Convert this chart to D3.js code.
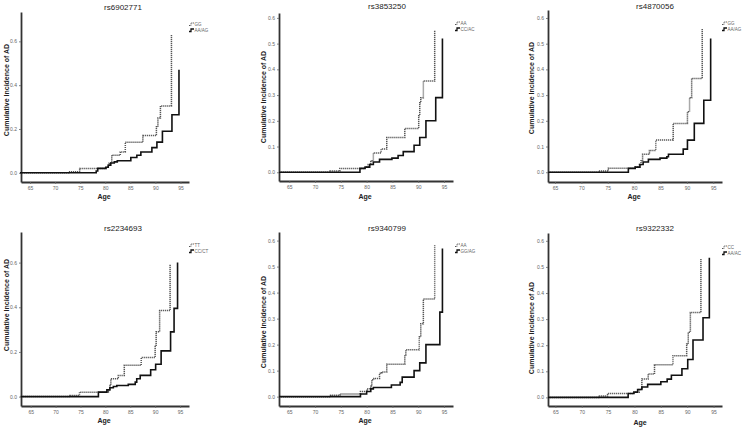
<!DOCTYPE html>
<html><head><meta charset="utf-8">
<script src="https://cdn.jsdelivr.net/npm/d3@7"></script>
<style>
body{margin:0;background:#fff;}
svg{display:block;font-family:Arial,"Liberation Sans",sans-serif;}
</style></head>
<body><svg id="c" width="750" height="429"></svg>
<script>
// ---- data ----
const titles = ["rs6902771","rs3853250","rs4870056","rs2234693","rs9340799","rs9322332"];
const dottedLabels = ["GG","AA","GG","TT","AA","CC"];
const solidLabels = ["AA/AG","CC/AC","AA/AG","CC/CT","GG/AG","AA/AC"];
const xTicks = [65,70,75,80,85,90,95];
const yTicks1 = [0,0.2,0.4,0.6];
const yTicks2 = [0,0.1,0.2,0.3,0.4,0.5,0.6];

// step points [age, cumulative incidence] : value jumps at that age
const rs6902771_GG = [[63,0],[72.7,0.005],[74.9,0.02],[80.4,0.03],[80.8,0.045],[81.3,0.08],[83.0,0.095],[84.0,0.14],[87.5,0.17],[90.2,0.21],[90.5,0.25],[91.0,0.305],[93.2,0.63]];
const rs6902771_AAAG = [[63,0],[78.2,0.008],[78.5,0.02],[80.1,0.025],[80.6,0.035],[81.1,0.045],[81.8,0.05],[82.4,0.055],[85.1,0.07],[86.3,0.08],[87.1,0.095],[89.3,0.115],[90.3,0.14],[91.4,0.19],[93.3,0.265],[94.7,0.47]];
const rs3853250_AA = [[63,0],[72.9,0.005],[74.8,0.015],[79.7,0.02],[80.3,0.03],[80.8,0.045],[81.3,0.075],[82.8,0.09],[83.9,0.135],[87.4,0.17],[90.1,0.22],[90.3,0.27],[90.5,0.29],[91.0,0.355],[93.2,0.55]];
const rs3853250_CCAC = [[63,0],[78.7,0.015],[79.7,0.02],[80.6,0.03],[81.3,0.04],[82.5,0.05],[84.9,0.055],[86.1,0.065],[87.1,0.08],[89.2,0.105],[90.3,0.135],[91.5,0.2],[93.4,0.29],[94.7,0.52]];
const rs4870056_GG = [[63.7,0],[73.3,0.005],[75.1,0.015],[80.2,0.02],[81.0,0.03],[81.3,0.045],[81.6,0.07],[82.9,0.085],[84.1,0.125],[87.4,0.19],[90.1,0.235],[90.5,0.29],[90.9,0.365],[92.9,0.56]];
const rs4870056_AAAG = [[63.7,0],[78.9,0.015],[80.2,0.02],[81.1,0.03],[81.7,0.04],[82.7,0.05],[84.9,0.055],[86.2,0.06],[86.5,0.07],[89.3,0.09],[90.1,0.125],[91.4,0.19],[93.2,0.28],[94.5,0.52]];
const rs2234693_TT = [[63,0],[72.9,0.005],[74.8,0.02],[80.6,0.03],[80.9,0.05],[81.1,0.08],[82.6,0.095],[83.8,0.14],[87.2,0.175],[90.0,0.23],[90.2,0.29],[90.9,0.385],[93.0,0.59]];
const rs2234693_CCCT = [[63,0],[78.6,0.02],[80.3,0.03],[80.9,0.04],[81.6,0.045],[82.3,0.05],[84.6,0.055],[86.0,0.065],[86.3,0.08],[87.0,0.095],[89.1,0.12],[90.1,0.145],[91.2,0.205],[93.1,0.29],[93.8,0.395],[94.5,0.6]];
const rs9340799_AA = [[63,0],[73.0,0.005],[74.8,0.01],[78.8,0.02],[80.1,0.03],[80.8,0.04],[81.0,0.065],[81.4,0.07],[82.5,0.09],[82.9,0.095],[83.9,0.125],[87.4,0.16],[87.6,0.18],[90.2,0.23],[90.5,0.28],[91.0,0.375],[93.2,0.585]];
const rs9340799_GGAG = [[63,0],[78.8,0.01],[80.0,0.02],[80.8,0.03],[81.3,0.035],[84.8,0.045],[86.5,0.055],[86.9,0.075],[89.2,0.1],[90.3,0.13],[91.5,0.2],[94.2,0.325],[94.7,0.57]];
const rs9322332_CC = [[63.6,0],[73.2,0.005],[74.9,0.015],[79.9,0.02],[80.9,0.03],[81.4,0.07],[82.6,0.09],[83.8,0.125],[87.3,0.16],[89.9,0.205],[90.2,0.25],[90.6,0.325],[92.6,0.53]];
const rs9322332_AAAC = [[63.6,0],[78.8,0.015],[79.9,0.02],[80.6,0.03],[81.4,0.04],[82.5,0.05],[85.0,0.06],[86.2,0.07],[87.0,0.085],[89.0,0.11],[90.1,0.145],[91.1,0.22],[93.0,0.305],[94.2,0.535]];

const dottedSeries = [rs6902771_GG, rs3853250_AA, rs4870056_GG, rs2234693_TT, rs9340799_AA, rs9322332_CC];
const solidSeries = [rs6902771_AAAG, rs3853250_CCAC, rs4870056_AAAG, rs2234693_CCCT, rs9340799_GGAG, rs9322332_AAAC];

// ---- layout ----
const layouts = [
 {l:21,r:189,t:12,b:182,xd:[63.2,96.7],yd:[-0.042,0.734],yt:yTicks1,title:[123,10],yl:[7,90],al:[104,199],lg:[189,24]},
 {l:279,r:453,t:13,b:181,xd:[63.0,96.75],yd:[-0.034,0.619],yt:yTicks2,title:[387,9],yl:[264,97],al:[365,199],lg:[455,23]},
 {l:548,r:722,t:10,b:182,xd:[63.67,96.65],yd:[-0.038,0.631],yt:yTicks2,title:[655,9],yl:[532,88],al:[634,199],lg:[722,23]},
 {l:21,r:189,t:232,b:406,xd:[63.05,96.8],yd:[-0.042,0.737],yt:yTicks1,title:[123,231],yl:[7,305],al:[104,423],lg:[189,245]},
 {l:279,r:453,t:232,b:406,xd:[63.0,96.75],yd:[-0.036,0.633],yt:yTicks2,title:[387,231],yl:[264,322],al:[365,423],lg:[455,245]},
 {l:548,r:722,t:233,b:406,xd:[63.6,96.6],yd:[-0.033,0.63],yt:yTicks2,title:[655,231],yl:[532,328],al:[640,425],lg:[722,247]}
];

const svg = d3.select("#c");
const fmt = d3.format(".1f");

layouts.forEach((L,i)=>{
  const x = d3.scaleLinear().domain(L.xd).range([L.l,L.r]);
  const y = d3.scaleLinear().domain(L.yd).range([L.b,L.t]);
  const g = svg.append("g");

  const xa = g.append("g").attr("transform",`translate(0,${L.b})`)
    .call(d3.axisBottom(x).tickValues(xTicks).tickSize(2).tickPadding(2).tickSizeOuter(0));
  const ya = g.append("g").attr("transform",`translate(${L.l},0)`)
    .call(d3.axisLeft(y).tickValues(L.yt).tickFormat(fmt).tickSize(2).tickPadding(2).tickSizeOuter(0));
  [xa,ya].forEach(a=>{
    a.select(".domain").attr("stroke","#333").attr("stroke-width",1.8);
    a.selectAll(".tick line").attr("stroke","#666").attr("stroke-width",0.8);
    a.selectAll(".tick text").attr("font-size",5).attr("fill","#666").attr("font-family","Arial,sans-serif");
  });

  const line = d3.line().x(d=>x(d[0])).y(d=>y(d[1])).curve(d3.curveStepAfter);
  g.append("path").datum(dottedSeries[i]).attr("d",line)
    .attr("fill","none").attr("stroke","#555").attr("stroke-width",1.5).attr("stroke-dasharray","1.2,0.8");
  g.append("path").datum(solidSeries[i]).attr("d",line)
    .attr("fill","none").attr("stroke","#111").attr("stroke-width",1.6);

  g.append("text").attr("x",L.title[0]).attr("y",L.title[1]).attr("text-anchor","middle")
    .attr("font-size",8).attr("fill","#222").text(titles[i]);
  g.append("text").attr("transform",`translate(${L.yl[0]},${L.yl[1]}) rotate(-90)`)
    .attr("text-anchor","middle").attr("dominant-baseline","middle")
    .attr("font-size",7).attr("font-weight","bold").attr("fill","#222").text("Cumulative Incidence of AD");
  g.append("text").attr("x",L.al[0]).attr("y",L.al[1]).attr("text-anchor","middle")
    .attr("font-size",7).attr("font-weight","bold").attr("fill","#222").text("Age");

  // legend
  const lg = g.append("g").attr("transform",`translate(${L.lg[0]},${L.lg[1]})`);
  const sym = "M0,1.5 H2 V-1 H5";
  lg.append("path").attr("d",sym).attr("fill","none").attr("stroke","#555").attr("stroke-width",1).attr("stroke-dasharray","1,0.6");
  lg.append("text").attr("x",5.5).attr("y",1.6).attr("font-size",4.5).attr("fill","#666").text(dottedLabels[i]);
  lg.append("path").attr("d",sym).attr("transform","translate(0,6)").attr("fill","none").attr("stroke","#111").attr("stroke-width",1.3);
  lg.append("text").attr("x",5.5).attr("y",7.6).attr("font-size",4.5).attr("fill","#666").text(solidLabels[i]);
});
</script></body></html>
